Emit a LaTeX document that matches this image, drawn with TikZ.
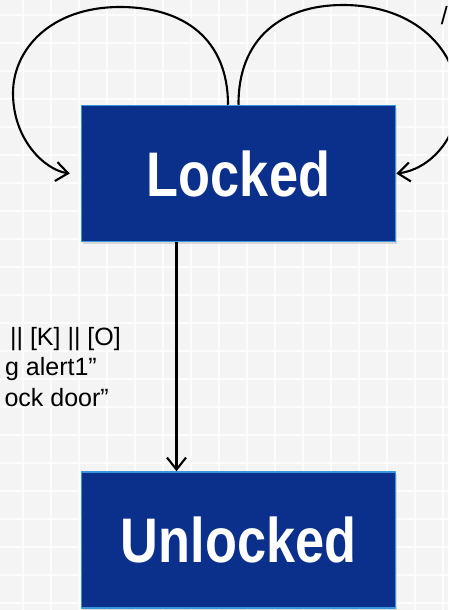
\documentclass[tikz,border=0pt]{standalone}
\usepackage{fontspec}
\setmainfont{Liberation Sans}
\newfontfamily\statefont[FakeStretch=0.83]{Liberation Sans}
\usetikzlibrary{arrows.meta,positioning,calc,shadows}
\definecolor{stateblue}{RGB}{10,48,140}
\definecolor{stateedge}{RGB}{58,150,218}
\definecolor{paper}{RGB}{244,244,244}
\newcommand \mypaper[2]
{
\fill[paper] (0,0) rectangle (#1,#2);
\foreach \i in {23,51,...,#1} \draw[white!70!paper,line width=1.3pt] (\i,0)--(\i,#2);
\foreach \j in {15,43,...,#2} \draw[white!70!paper,line width=1.3pt] (0,\j)--(#1,\j);
}
\begin{document}
\begin{tikzpicture}[x=1pt,y=-1pt,line join=round,
  state/.style={draw=stateedge,line width=1.5pt,fill=stateblue,minimum width=314pt,minimum height=136pt,
    text=white,font=\statefont\bfseries\fontsize{63}{63}\selectfont,
    drop shadow={opacity=0.25,shadow xshift=1pt,shadow yshift=-2pt}},
  trans/.style={line width=2.1pt,-{Straight Barb[length=12pt,width=19pt,line width=2.1pt]}},
  guard/.style={font=\fontsize{25}{25}\selectfont,anchor=base east,inner sep=0pt}]
\useasboundingbox (0,0) rectangle (448,610);
\clip (0,0) rectangle (448,610);
\mypaper{448}{610}
\node[state] (Locked) at (238.5,173.5) {Locked};
\node[state, below=229pt of Locked] (Unlocked) {Unlocked};
% self loops on Locked
\draw[trans] ([xshift=-10.5pt]Locked.north) .. controls (228,40) and (185,7) .. (120,7)
  .. controls (50,7) and (13,50) .. (13,93) .. controls (13,140) and (45,170) .. ([xshift=-11pt]Locked.west);
\draw[trans] (Locked.north) .. controls (238,40) and (280,5) .. (343,5)
  .. controls (415,5) and (458,50) .. (458,100) .. controls (458,140) and (428,170) .. (Locked.east);
\draw[trans] ([xshift=-62pt]Locked.south) -- ([xshift=-62pt]Unlocked.north);
\node[guard] (g0) at (448,25) {/};
\node[guard] (g1) at (121,345) {|| [K] || [O]};
\node[guard] (g2) at (97,375) {g alert1”};
\node[guard] (g3) at (109,406) {ock door”};
\end{tikzpicture}
\end{document}
